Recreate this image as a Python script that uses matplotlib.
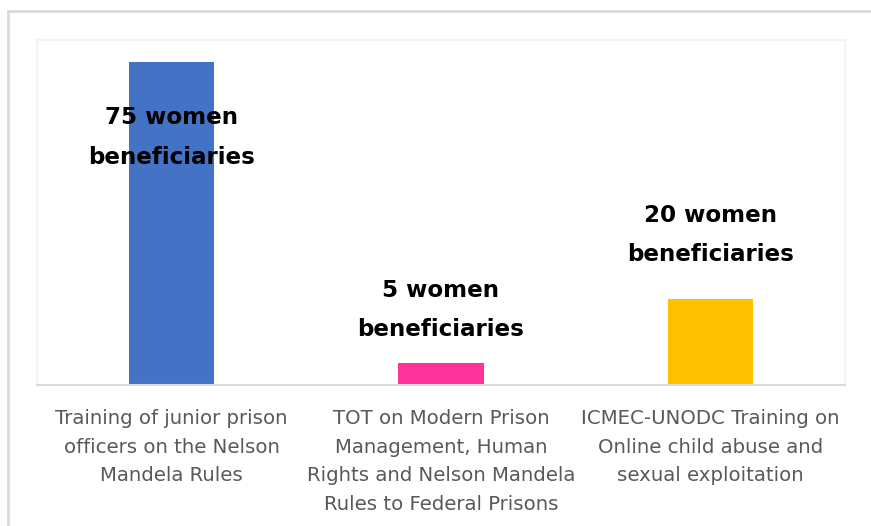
import matplotlib.pyplot as plt
from matplotlib.patches import Rectangle

categories = [
    "Training of junior prison\nofficers on the Nelson\nMandela Rules",
    "TOT on Modern Prison\nManagement, Human\nRights and Nelson Mandela\nRules to Federal Prisons",
    "ICMEC-UNODC Training on\nOnline child abuse and\nsexual exploitation",
]
values = [75, 5, 20]
bar_labels = ["75 women\nbeneficiaries", "5 women\nbeneficiaries", "20 women\nbeneficiaries"]
colors = ["#4472C4", "#FF3399", "#FFC000"]

W, H = 871, 526
fig = plt.figure(figsize=(W / 100, H / 100), dpi=100)

# outer chart frame
fig.patches.append(Rectangle((8 / W, -0.01), 1.0, 1 - 11 / H + 0.01, transform=fig.transFigure,
                             fill=False, edgecolor="#d9d9d9", linewidth=2))

ax = fig.add_axes([37 / W, 1 - 385 / H, 808 / W, 345 / H])
x = range(len(values))
bars = ax.bar(x, values, width=0.316, color=colors)

ax.set_xlim(-0.5, 2.5)
ax.set_ylim(0, 80)
ax.set_yticks([])
ax.set_xticks(list(x))
ax.set_xticklabels(categories, fontsize=14.2, color="#595959", linespacing=1.66)
ax.tick_params(axis="x", length=0, pad=17)

for side in ["left", "top", "right"]:
    ax.spines[side].set_color("#eef0fa")
    ax.spines[side].set_linewidth(1.2)
ax.spines["bottom"].set_color("#d9d9d9")
ax.spines["bottom"].set_linewidth(1.5)

# label centres (data units); the first one sits inside its bar like in Excel
label_y = [57.4, 17.4, 34.7]
for i, (lab, ly) in enumerate(zip(bar_labels, label_y)):
    ax.text(i, ly, lab, ha="center", va="center", fontsize=16.6, fontweight="bold",
            color="black", linespacing=1.9)

fig.savefig("out.png", dpi=100)
